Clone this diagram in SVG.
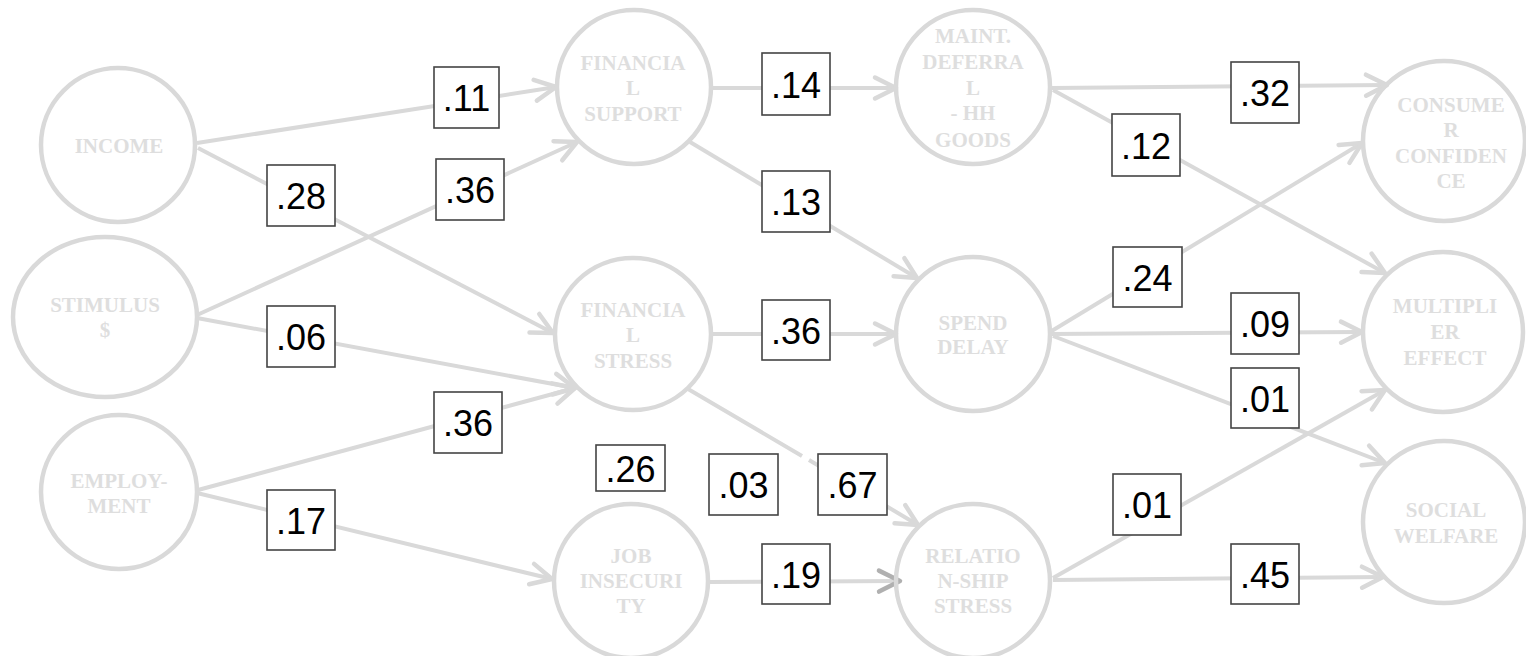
<svg xmlns="http://www.w3.org/2000/svg" width="1526" height="656" viewBox="0 0 1526 656">
<style>
.node ellipse{fill:none;stroke:#d9d9d9;stroke-width:4.5}
.node text{font-family:"Liberation Serif","Times New Roman",serif;font-weight:bold;font-size:21px;fill:#dedede;text-anchor:middle}
.edge{fill:none;stroke:#d9d9d9;stroke-width:4;marker-end:url(#arr)}
.lbl rect{fill:#fff;stroke:#444;stroke-width:1.6}
.lbl text{font-family:"Liberation Sans",Arial,sans-serif;font-size:36px;fill:#000;text-anchor:middle}
</style>
<defs>
<marker id="arr" markerUnits="userSpaceOnUse" viewBox="-24 -14 28 28" refX="0" refY="0" markerWidth="28" markerHeight="28" orient="auto" overflow="visible">
<path d="M-21,-10.5 L0,0 L-21,10.5" fill="none" stroke="#d9d9d9" stroke-width="4.5" stroke-linecap="round" stroke-linejoin="round"/>
</marker>
<marker id="arr2" markerUnits="userSpaceOnUse" viewBox="-24 -14 28 28" refX="0" refY="0" markerWidth="28" markerHeight="28" orient="auto" overflow="visible">
<path d="M-21,-10.5 L0,0 L-21,10.5" fill="none" stroke="#b0b0b0" stroke-width="4.5" stroke-linecap="round" stroke-linejoin="round"/>
</marker>
</defs>
<rect width="1526" height="656" fill="#fff"/>
<g id="connectors">
<path class="edge" d="M197,143 L556,87"/>
<path class="edge" d="M198,148 L553,333"/>
<path class="edge" d="M197,315 L577,142"/>
<path class="edge" d="M197,318 L575,388"/>
<path class="edge" d="M198,490 L575,388"/>
<path class="edge" d="M197,493 L552,579"/>
<path class="edge" d="M712,88 L896,88"/>
<path class="edge" d="M690,142 L917,278"/>
<path class="edge" d="M711,334 L896,334"/>
<path class="edge" d="M688,389 L802,456 M809,460 L918,525"/>
<path class="edge" d="M709,582 L900,581" style="marker-end:url(#arr2)"/>
<path class="edge" d="M1052,88 L1387,85"/>
<path class="edge" d="M1053,90 L1385,273"/>
<path class="edge" d="M1050,332 L1362,143"/>
<path class="edge" d="M1050,334 L1362,332"/>
<path class="edge" d="M1053,336 L1385,463"/>
<path class="edge" d="M1053,578 L1385,390"/>
<path class="edge" d="M1053,580 L1383,577"/>
</g>
<g id="node-income" class="node"><ellipse cx="118" cy="145" rx="77" ry="77"/><text x="119" y="153">INCOME</text></g>
<g id="node-stimulus" class="node"><ellipse cx="105" cy="317" rx="92" ry="80"/><text x="105" y="312">STIMULUS</text><text x="105" y="337">$</text></g>
<g id="node-employment" class="node"><ellipse cx="119" cy="492" rx="78" ry="77"/><text x="119" y="488">EMPLOY-</text><text x="119" y="513">MENT</text></g>
<g id="node-financial-support" class="node"><ellipse cx="634" cy="87" rx="77" ry="77"/><text x="633" y="70">FINANCIA</text><text x="633" y="95">L</text><text x="633" y="121">SUPPORT</text></g>
<g id="node-maint-deferral" class="node"><ellipse cx="973" cy="87" rx="77" ry="77"/><text x="973" y="43">MAINT.</text><text x="973" y="69">DEFERRA</text><text x="973" y="95">L</text><text x="973" y="120">- HH</text><text x="973" y="147">GOODS</text></g>
<g id="node-financial-stress" class="node"><ellipse cx="633" cy="334" rx="78" ry="76"/><text x="633" y="317">FINANCIA</text><text x="633" y="342">L</text><text x="633" y="368">STRESS</text></g>
<g id="node-spend-delay" class="node"><ellipse cx="973" cy="334" rx="77" ry="77"/><text x="973" y="330">SPEND</text><text x="973" y="354">DELAY</text></g>
<g id="node-job-insecurity" class="node"><ellipse cx="631" cy="581" rx="77" ry="77"/><text x="631" y="563">JOB</text><text x="631" y="588">INSECURI</text><text x="631" y="613">TY</text></g>
<g id="node-relationship-stress" class="node"><ellipse cx="973" cy="581" rx="77" ry="77"/><text x="973" y="563">RELATIO</text><text x="973" y="588">N-SHIP</text><text x="973" y="613">STRESS</text></g>
<g id="node-consumer-confidence" class="node"><ellipse cx="1444" cy="141" rx="81" ry="80"/><text x="1451" y="112">CONSUME</text><text x="1451" y="137">R</text><text x="1451" y="163">CONFIDEN</text><text x="1451" y="188">CE</text></g>
<g id="node-multiplier-effect" class="node"><ellipse cx="1443" cy="332" rx="80" ry="80"/><text x="1445" y="313">MULTIPLI</text><text x="1445" y="339">ER</text><text x="1445" y="365">EFFECT</text></g>
<g id="node-social-welfare" class="node"><ellipse cx="1444" cy="522" rx="81" ry="81"/><text x="1446" y="517">SOCIAL</text><text x="1446" y="543">WELFARE</text></g>
<g id="labels">
<g class="lbl"><rect x="434" y="67" width="65" height="61"/><text x="466.5" y="111">.11</text></g>
<g class="lbl"><rect x="267" y="165" width="68" height="61"/><text x="301" y="209">.28</text></g>
<g class="lbl"><rect x="436" y="159" width="68" height="61"/><text x="470" y="203">.36</text></g>
<g class="lbl"><rect x="267" y="306" width="68" height="61"/><text x="301" y="350">.06</text></g>
<g class="lbl"><rect x="434" y="392" width="68" height="61"/><text x="468" y="436">.36</text></g>
<g class="lbl"><rect x="267" y="490" width="68" height="60"/><text x="301" y="533.5">.17</text></g>
<g class="lbl"><rect x="762" y="53" width="68" height="62"/><text x="796" y="97.5">.14</text></g>
<g class="lbl"><rect x="762" y="171" width="68" height="61"/><text x="796" y="215">.13</text></g>
<g class="lbl"><rect x="762" y="300" width="68" height="60"/><text x="796" y="343.5">.36</text></g>
<g class="lbl"><rect x="596" y="445" width="69" height="46"/><text x="630.5" y="481.5">.26</text></g>
<g class="lbl"><rect x="709" y="454" width="69" height="61"/><text x="743.5" y="498">.03</text></g>
<g class="lbl"><rect x="818" y="454" width="69" height="61"/><text x="852.5" y="498">.67</text></g>
<g class="lbl"><rect x="762" y="544" width="68" height="60"/><text x="796" y="587.5">.19</text></g>
<g class="lbl"><rect x="1231" y="62" width="68" height="61"/><text x="1265" y="106">.32</text></g>
<g class="lbl"><rect x="1112" y="114" width="68" height="62"/><text x="1146" y="158.5">.12</text></g>
<g class="lbl"><rect x="1113" y="247" width="69" height="60"/><text x="1147.5" y="290.5">.24</text></g>
<g class="lbl"><rect x="1231" y="293" width="68" height="61"/><text x="1265" y="337">.09</text></g>
<g class="lbl"><rect x="1231" y="368" width="68" height="60"/><text x="1265" y="411.5">.01</text></g>
<g class="lbl"><rect x="1113" y="474" width="68" height="61"/><text x="1147" y="518">.01</text></g>
<g class="lbl"><rect x="1231" y="544" width="68" height="60"/><text x="1265" y="587.5">.45</text></g>
</g>
</svg>
